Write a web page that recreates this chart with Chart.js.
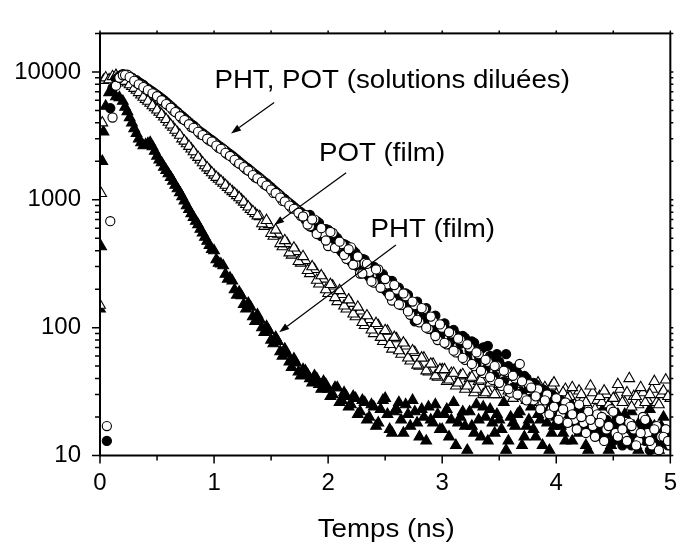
<!DOCTYPE html>
<html>
<head>
<meta charset="utf-8">
<script src="https://cdn.jsdelivr.net/npm/chart.js@4.4.0/dist/chart.umd.min.js"></script>
<style>
  html, body { margin: 0; padding: 0; background: #fff; overflow: hidden; }
  #wrap { width: 690px; height: 543px; }
</style>
</head>
<body>
<div id="wrap"><canvas id="decayChart"></canvas></div>
<script>
// time channels (ns)
const riseSolutionTimes = [0.06, 0.09, 0.11, 0.14, 0.17];
const riseFilmTimes = [0.00, 0.01, 0.02, 0.03, 0.05, 0.08, 0.11, 0.14, 0.17];
const decayTimes = [
  0.20, 0.24, 0.28, 0.32, 0.36, 0.40, 0.44, 0.48, 0.52, 0.56,
  0.60, 0.64, 0.68, 0.72, 0.76, 0.80, 0.84, 0.88, 0.92, 0.96,
  1.00, 1.04, 1.08, 1.12, 1.16, 1.20, 1.24, 1.28, 1.32, 1.36,
  1.40, 1.44, 1.48, 1.52, 1.56, 1.60, 1.64, 1.68, 1.72, 1.76,
  1.80, 1.84, 1.88, 1.92, 1.96, 2.00, 2.04, 2.08, 2.12, 2.16,
  2.20, 2.24, 2.28, 2.32, 2.36, 2.40, 2.44, 2.48, 2.52, 2.56,
  2.60, 2.64, 2.68, 2.72, 2.76, 2.80, 2.84, 2.88, 2.92, 2.96,
  3.00, 3.04, 3.08, 3.12, 3.16, 3.20, 3.24, 3.28, 3.32, 3.36,
  3.40, 3.44, 3.48, 3.52, 3.56, 3.60, 3.64, 3.68, 3.72, 3.76,
  3.80, 3.84, 3.88, 3.92, 3.96, 4.00, 4.04, 4.08, 4.12, 4.16,
  4.20, 4.24, 4.28, 4.32, 4.36, 4.40, 4.44, 4.48, 4.52, 4.56,
  4.60, 4.64, 4.68, 4.72, 4.76, 4.80, 4.84, 4.88, 4.92, 4.96,
  5.00
];
// the channels in between
const decayTimesB = [
  0.22, 0.26, 0.30, 0.34, 0.38, 0.42, 0.46, 0.50, 0.54, 0.58,
  0.62, 0.66, 0.70, 0.74, 0.78, 0.82, 0.86, 0.90, 0.94, 0.98,
  1.02, 1.06, 1.10, 1.14, 1.18, 1.22, 1.26, 1.30, 1.34, 1.38,
  1.42, 1.46, 1.50, 1.54, 1.58, 1.62, 1.66, 1.70, 1.74, 1.78,
  1.82, 1.86, 1.90, 1.94, 1.98, 2.02, 2.06, 2.10, 2.14, 2.18,
  2.22, 2.26, 2.30, 2.34, 2.38, 2.42, 2.46, 2.50, 2.54, 2.58,
  2.62, 2.66, 2.70, 2.74, 2.78, 2.82, 2.86, 2.90, 2.94, 2.98,
  3.02, 3.06, 3.10, 3.14, 3.18, 3.22, 3.26, 3.30, 3.34, 3.38,
  3.42, 3.46, 3.50, 3.54, 3.58, 3.62, 3.66, 3.70, 3.74, 3.78,
  3.82, 3.86, 3.90, 3.94, 3.98, 4.02, 4.06, 4.10, 4.14, 4.18,
  4.22, 4.26, 4.30, 4.34, 4.38, 4.42, 4.46, 4.50, 4.54, 4.58,
  4.62, 4.66, 4.70, 4.74, 4.78, 4.82, 4.86, 4.90, 4.94, 4.98
];

// counts - POT solution (open circles)
const potSolution = [
  17, 680, 4400, 7800, 9000,
  9400, 9500, 8900, 8200, 7900, 7300, 7000, 6700, 6100, 5800,
  5450, 5000, 4750, 4300, 4100, 3700, 3600, 3250, 3150, 2900,
  2780, 2550, 2480, 2250, 2150, 1970, 1880, 1730, 1660, 1500,
  1450, 1320, 1260, 1130, 1110, 980, 960, 860, 840, 750,
  760, 620, 700, 550, 545, 435, 550, 430, 450, 345,
  425, 315, 265, 320, 272, 225, 285, 210, 218, 163,
  198, 150, 176, 126, 150, 110, 140, 98, 112, 80,
  100, 74, 90, 64, 80, 56, 70, 50, 62, 44,
  54, 39, 50, 35, 45, 31, 40, 52, 28, 36,
  27, 33, 25, 30, 23, 28, 21, 26, 24, 19,
  25, 18, 22, 17, 21, 20, 16, 23, 15, 19,
  14, 18, 16, 13, 20, 15, 12, 17, 14, 16,
  12
];
const potSolutionB = [
  9450, 9100, 8500, 8000, 7600, 7200, 6800, 6450, 6000, 5600,
  5250, 4850, 4500, 4200, 3900, 3650, 3400, 3200, 3000, 2850,
  2650, 2500, 2330, 2200, 2050, 1920, 1800, 1690, 1560, 1470,
  1380, 1290, 1200, 1130, 1040, 970, 900, 850, 790, 740,
  640, 700, 540, 600, 480, 560, 420, 470, 370, 410,
  310, 360, 265, 315, 230, 285, 205, 240, 178, 215,
  152, 185, 134, 160, 115, 142, 100, 122, 86, 106,
  76, 92, 66, 82, 58, 74, 52, 64, 46, 56,
  41, 50, 37, 46, 33, 42, 30, 38, 27, 34,
  29, 23, 27, 21, 24, 19, 23, 18, 21, 16,
  20, 15, 19, 14, 18, 13, 17, 22, 14, 16,
  13, 17, 12, 15, 19, 13, 16, 11, 14, 13
];

// PHT solution (filled circles)
const phtSolution = [
  13, 5200, 7500, 8800, 9300,
  9600, 9400, 9000, 8600, 8100, 7600, 7200, 6800, 6400, 6000,
  5600, 5200, 4850, 4500, 4200, 3900, 3650, 3400, 3200, 3000,
  2830, 2650, 2500, 2340, 2200, 2060, 1920, 1800, 1690, 1580,
  1480, 1380, 1290, 1200, 1120, 1040, 970, 910, 850, 800,
  700, 760, 600, 660, 520, 580, 450, 500, 390, 440,
  330, 385, 290, 340, 250, 300, 222, 262, 190, 232,
  198, 172, 185, 150, 112, 140, 125, 118, 95, 105,
  92, 96, 80, 88, 75, 83, 66, 76, 60, 70,
  72, 55, 62, 50, 62, 44, 48, 38, 42, 34,
  37, 30, 33, 27, 30, 24, 27, 22, 25, 20,
  23, 18, 21, 17, 20, 16, 19, 15, 18, 14,
  17, 15, 13, 16, 14, 17, 12, 15, 13, 16,
  14
];
const phtSolutionB = [
  9500, 9200, 8700, 8300, 7900, 7400, 7000, 6600, 6200, 5800,
  5400, 5000, 4650, 4350, 4050, 3800, 3500, 3300, 3100, 2920,
  2740, 2580, 2420, 2270, 2130, 1990, 1860, 1750, 1630, 1530,
  1430, 1340, 1250, 1160, 1080, 1010, 940, 880, 820, 770,
  740, 610, 680, 520, 590, 470, 520, 410, 450, 350,
  400, 300, 345, 262, 300, 228, 262, 198, 232, 170,
  205, 150, 180, 130, 160, 112, 142, 98, 124, 85,
  108, 74, 96, 64, 86, 58, 78, 52, 68, 47,
  60, 42, 54, 38, 50, 34, 44, 31, 40, 28,
  36, 29, 32, 26, 29, 23, 26, 21, 24, 19,
  22, 17, 20, 15, 19, 14, 17, 13, 16, 12,
  15, 12, 14, 17, 13, 11, 15, 12, 14, 12
];

// POT film (open triangles)
const potFilm = [
  150, 1120, 4000, 8600, 9000, 8700, 9200, 9400, 9100,
  8700, 8200, 7700, 7200, 6600, 6100, 5700, 5250, 4850, 4450,
  4050, 3700, 3350, 3000, 2750, 2500, 2250, 2050, 1850, 1700,
  1560, 1450, 1350, 1250, 1160, 1080, 1000, 920, 840, 780,
  740, 620, 640, 520, 540, 430, 455, 370, 395, 320,
  335, 265, 285, 220, 240, 185, 212, 160, 182, 140,
  155, 122, 135, 104, 116, 90, 104, 78, 94, 68,
  82, 62, 72, 55, 64, 50, 58, 45, 52, 41,
  47, 38, 44, 35, 42, 33, 40, 31, 38, 30,
  32, 39, 30, 35, 41, 31, 36, 29, 40, 33,
  28, 37, 31, 26, 35, 30, 27, 33, 29, 25,
  32, 28, 24, 31, 27, 26, 30, 24, 28, 33,
  26, 40, 29, 25, 31, 27, 33, 26, 30, 39,
  28
];
const potFilmB = [
  8450, 7950, 7450, 6900, 6350, 5900, 5450, 5050, 4650, 4250,
  3850, 3500, 3200, 2880, 2620, 2380, 2150, 1950, 1780, 1630,
  1500, 1400, 1300, 1200, 1120, 1040, 960, 880, 810, 750,
  650, 690, 545, 580, 455, 480, 385, 420, 330, 360,
  280, 300, 235, 255, 198, 218, 172, 195, 148, 165,
  128, 145, 110, 124, 96, 108, 84, 95, 74, 84,
  66, 76, 58, 66, 51, 58, 46, 52, 42, 47,
  47, 39, 44, 37, 43, 35, 41, 33, 39, 31,
  37, 30, 36, 42, 32, 28, 38, 31, 27, 35,
  30, 26, 34, 29, 37, 25, 31, 28, 34, 24,
  30, 26, 35, 23, 29, 32, 25, 28, 36, 26,
  31, 24, 29, 34, 26, 30, 38, 25, 32, 29
];

// PHT film (filled triangles)
const phtFilm = [
  140, 430, 2000, 3400, 5400, 6900, 7000, 6400, 6300,
  5900, 4900, 4000, 3300, 2800, 2700, 2800, 2400, 2050, 1800,
  1600, 1400, 1220, 1060, 900, 780, 680, 590, 510, 440,
  400, 320, 305, 240, 232, 180, 178, 140, 145, 112,
  116, 92, 95, 75, 78, 60, 63, 49, 53, 42,
  46, 40, 42, 36, 38, 33, 30, 34, 27, 29,
  25, 28, 22, 26, 20, 24, 18, 27, 21, 15,
  23, 19, 25, 17, 22, 14, 20, 24, 18, 21,
  16, 23, 19, 12, 20, 17, 22, 15, 19, 24,
  13, 18, 21, 16, 11, 20, 17, 22, 14, 19,
  16, 21, 12, 18, 15, 20, 17, 13, 19, 22,
  15, 18, 11, 16, 20, 14, 17, 12, 19, 15,
  21, 13, 17, 11, 16, 19, 14, 12, 17, 13,
  15
];
const phtFilmB = [
  5300, 4400, 3600, 3000, 2650, 2750, 2600, 2200, 1950, 1700,
  1500, 1300, 1140, 980, 840, 730, 640, 550, 475, 410,
  340, 315, 262, 245, 198, 190, 152, 155, 122, 126,
  100, 102, 80, 84, 65, 68, 54, 57, 45, 47,
  43, 37, 40, 33, 36, 29, 34, 26, 31, 24,
  29, 21, 27, 19, 25, 17, 23, 28, 16, 22,
  26, 15, 21, 27, 18, 23, 13, 19, 25, 16,
  21, 14, 26, 18, 22, 11, 17, 25, 14, 20,
  23, 15, 19, 26, 13, 18, 21, 12, 17, 24,
  14, 19, 23, 11, 17, 21, 15, 25, 13, 18,
  22, 12, 17, 20, 14, 24, 11, 18, 21, 13,
  16, 22, 12, 19, 14, 23, 17, 11, 20, 15
];

const yTickValues = [10, 100, 1000, 10000];

// labels and arrows, in data units
const notes = [
  { text: 'PHT, POT (solutions diluées)', x: 1.003, y: 7423 },
  { text: 'POT (film)', x: 1.92, y: 1992 },
  { text: 'PHT (film)', x: 2.371, y: 516 }
];
const arrows = [
  { from: [1.527, 5761], to: [1.149, 3302] },
  { from: [2.158, 1629], to: [1.527, 634] },
  { from: [2.594, 443], to: [1.571, 92] }
];
const axisTitle = 'Temps (ns)';

const FONT = '"Liberation Sans", Arial, sans-serif';
const STRETCH = 1.065; // the original lettering is a little wide

const solutionTimes = riseSolutionTimes.concat(decayTimes, decayTimesB);
const filmTimes = riseFilmTimes.concat(decayTimes, decayTimesB);

function toPoints(times, values) {
  return values.map((v, i) => ({ x: times[i], y: v }));
}

function wideText(ctx, text, px, py, align) {
  ctx.save();
  ctx.translate(px, py);
  ctx.scale(STRETCH, 1);
  ctx.textAlign = align;
  ctx.fillText(text, 0, 0);
  ctx.restore();
}

// frame, tick marks, labels and arrows
const framePlugin = {
  id: 'framePlugin',
  afterDatasetsDraw(chart) {
    const { ctx, chartArea: a, scales: { x, y } } = chart;
    ctx.save();

    // arrows
    ctx.strokeStyle = '#000';
    ctx.fillStyle = '#000';
    ctx.lineWidth = 1.2;
    arrows.forEach(ar => {
      const x1 = x.getPixelForValue(ar.from[0]), y1 = y.getPixelForValue(ar.from[1]);
      const x2 = x.getPixelForValue(ar.to[0]), y2 = y.getPixelForValue(ar.to[1]);
      const ang = Math.atan2(y2 - y1, x2 - x1);
      const len = 10, half = 3.5;
      const bx = x2 - Math.cos(ang) * len, by = y2 - Math.sin(ang) * len;
      ctx.beginPath();
      ctx.moveTo(x1, y1);
      ctx.lineTo(bx, by);
      ctx.stroke();
      ctx.beginPath();
      ctx.moveTo(x2, y2);
      ctx.lineTo(bx - Math.sin(ang) * half, by + Math.cos(ang) * half);
      ctx.lineTo(bx + Math.sin(ang) * half, by - Math.cos(ang) * half);
      ctx.closePath();
      ctx.fill();
    });

    // text notes and axis title
    ctx.font = '26px ' + FONT;
    ctx.textBaseline = 'alphabetic';
    notes.forEach(n => {
      wideText(ctx, n.text, x.getPixelForValue(n.x), y.getPixelForValue(n.y), 'left');
    });
    wideText(ctx, axisTitle, (a.left + a.right) / 2 + 1, a.bottom + 81.5, 'center');

    // frame
    ctx.lineWidth = 2;
    ctx.strokeRect(a.left, a.top, a.right - a.left, a.bottom - a.top);

    // tick marks
    ctx.lineWidth = 1.5;
    ctx.beginPath();
    for (let v = 0; v <= 5.001; v += 0.5) {
      const px = x.getPixelForValue(v);
      const major = Math.abs(v - Math.round(v)) < 1e-6;
      ctx.moveTo(px, a.bottom);
      ctx.lineTo(px, a.bottom + (major ? 8 : 5));
      ctx.moveTo(px, a.top);
      ctx.lineTo(px, a.top - 3);
    }
    yTickValues.forEach(d => {
      for (let m = 1; m <= 9; m++) {
        const v = d * m;
        if (v > 20000) break;
        const py = y.getPixelForValue(v);
        ctx.moveTo(a.left, py);
        ctx.lineTo(a.left - (m === 1 ? 8 : 5), py);
        ctx.moveTo(a.right, py);
        ctx.lineTo(a.right + 3, py);
      }
    });
    ctx.stroke();
    ctx.restore();
  }
};

const circleRadius = 4.6;
const triangleRadius = 6.2;

new Chart(document.getElementById('decayChart'), {
  type: 'scatter',
  data: {
    datasets: [
      {
        label: 'POT (solution)',
        data: toPoints(solutionTimes, potSolution.concat(potSolutionB)),
        pointStyle: 'circle',
        pointRadius: circleRadius,
        pointBackgroundColor: '#fff',
        pointBorderColor: '#000',
        pointBorderWidth: 1.1
      },
      {
        label: 'PHT (solution)',
        data: toPoints(solutionTimes, phtSolution.concat(phtSolutionB)),
        pointStyle: 'circle',
        pointRadius: circleRadius,
        pointBackgroundColor: '#000',
        pointBorderColor: '#000',
        pointBorderWidth: 1.1
      },
      {
        label: 'POT (film)',
        data: toPoints(filmTimes, potFilm.concat(potFilmB)),
        pointStyle: 'triangle',
        pointRadius: triangleRadius,
        pointBackgroundColor: '#fff',
        pointBorderColor: '#000',
        pointBorderWidth: 1.1
      },
      {
        label: 'PHT (film)',
        data: toPoints(filmTimes, phtFilm.concat(phtFilmB)),
        pointStyle: 'triangle',
        pointRadius: triangleRadius,
        pointBackgroundColor: '#000',
        pointBorderColor: '#000',
        pointBorderWidth: 1.1
      }
    ]
  },
  options: {
    responsive: true,
    maintainAspectRatio: false,
    animation: false,
    events: [],
    layout: { padding: { top: 14.5, right: 17, left: 0, bottom: 0 } },
    plugins: {
      legend: { display: false },
      tooltip: { enabled: false }
    },
    scales: {
      x: {
        type: 'linear',
        position: 'bottom',
        min: 0,
        max: 5,
        grid: { display: false, drawTicks: false },
        border: { display: false },
        ticks: {
          stepSize: 1,
          color: '#000',
          padding: 13,
          font: { family: FONT, size: 24 },
          callback: v => Number.isInteger(v) ? String(v) : ''
        },
        afterFit(scale) { scale.height = 87.5; }
      },
      y: {
        type: 'logarithmic',
        min: 10,
        max: 20000,
        grid: { display: false, drawTicks: false },
        border: { display: false },
        afterBuildTicks(scale) {
          scale.ticks = yTickValues.map(v => ({ value: v }));
        },
        ticks: {
          color: '#000',
          padding: 19,
          autoSkip: false,
          font: { family: FONT, size: 24 },
          callback: v => String(v)
        },
        afterFit(scale) { scale.width = 100; }
      }
    }
  },
  plugins: [framePlugin]
});
</script>
</body>
</html>
